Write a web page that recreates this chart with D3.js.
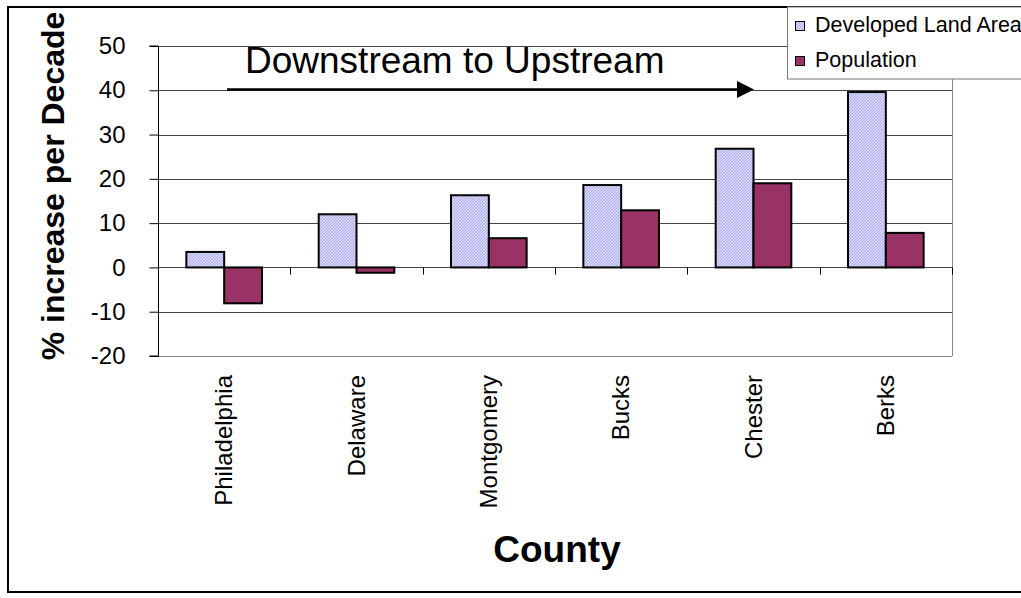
<!DOCTYPE html>
<html>
<head>
<meta charset="utf-8">
<script src="https://cdn.jsdelivr.net/npm/d3@7/dist/d3.min.js"></script>
<style>
  html, body { margin: 0; padding: 0; background: #fff; }
  svg { display: block; font-family: Arial, "Liberation Sans", sans-serif; }
</style>
</head>
<body>
<svg id="chart" width="1021" height="598"></svg>
<script>
// County growth rates, % increase per decade
const counties = ["Philadelphia", "Delaware", "Montgomery", "Bucks", "Chester", "Berks"];
const developedLand = [3.5, 12.0, 16.3, 18.6, 26.8, 39.6];
const population = [-8.1, -1.2, 6.6, 12.9, 19.0, 7.8];
const seriesNames = ["Developed Land Area", "Population"];
const yTicks = [-20, -10, 0, 10, 20, 30, 40, 50];

const svg = d3.select("#chart");
const W = 1021, H = 598;
const plot = { left: 158, right: 952, top: 46, bottom: 356 };
const FONT = "Arial, 'Liberation Sans', sans-serif";

// Hatched fill for the developed-land bars
const defs = svg.append("defs");
const pat = defs.append("pattern")
  .attr("id", "hatch").attr("patternUnits", "userSpaceOnUse")
  .attr("width", 3).attr("height", 3);
pat.append("rect").attr("width", 3).attr("height", 3).attr("fill", "#d4d4fa");
pat.append("path").attr("d", "M0,3 L3,0").attr("stroke", "#a8a8ee").attr("stroke-width", 0.9);

// Outer chart frame
svg.append("rect").attr("x", 8).attr("y", 7).attr("width", W + 10).attr("height", 585)
  .attr("fill", "#fff").attr("stroke", "#000").attr("stroke-width", 2);

const x = d3.scaleBand().domain(counties).range([plot.left, plot.right]).paddingInner(0).paddingOuter(0);
const y = d3.scaleLinear().domain([-20, 50]).range([plot.bottom, plot.top]);
const barW = x.bandwidth() / 3.5;   // 150% gap width

// Gridlines
svg.append("g").selectAll("line").data(yTicks).join("line")
  .attr("x1", plot.left).attr("x2", plot.right)
  .attr("y1", d => Math.round(y(d)) + 0.5).attr("y2", d => Math.round(y(d)) + 0.5)
  .attr("stroke", d => d === -20 ? "#888" : "#444").attr("stroke-width", 1);

// Plot area right edge
svg.append("line").attr("x1", plot.right + 0.5).attr("x2", plot.right + 0.5)
  .attr("y1", plot.top).attr("y2", plot.bottom).attr("stroke", "#888");

// Y axis
const yAxis = d3.axisLeft(y).tickValues(yTicks).tickSize(9).tickPadding(24).tickFormat(d => String(d));
const gy = svg.append("g").attr("transform", `translate(${plot.left + 0.5},0)`).call(yAxis);
gy.select(".domain").attr("stroke", "#000").attr("d", `M-9,${y(50)}H0V${y(-20)}H-9`);
gy.selectAll(".tick line").attr("stroke", "#000");
gy.selectAll(".tick text").attr("font-size", 24).attr("fill", "#000").attr("font-family", FONT);

// Category tick marks on the zero line
const zeroY = Math.round(y(0)) + 0.5;
svg.append("g").selectAll("line").data(d3.range(1, counties.length + 1)).join("line")
  .attr("x1", i => Math.round(plot.left + i * x.step()) + 0.5)
  .attr("x2", i => Math.round(plot.left + i * x.step()) + 0.5)
  .attr("y1", zeroY).attr("y2", zeroY + 7)
  .attr("stroke", "#000");

// Bars
const groups = svg.append("g").selectAll("g").data(counties).join("g");
groups.append("rect")
  .attr("x", d => x(d) + x.bandwidth() / 2 - barW)
  .attr("width", barW)
  .attr("y", (d, i) => y(Math.max(0, developedLand[i])))
  .attr("height", (d, i) => Math.abs(y(developedLand[i]) - y(0)))
  .attr("fill", "url(#hatch)").attr("stroke", "#000").attr("stroke-width", 2);
groups.append("rect")
  .attr("x", d => x(d) + x.bandwidth() / 2)
  .attr("width", barW)
  .attr("y", (d, i) => y(Math.max(0, population[i])))
  .attr("height", (d, i) => Math.abs(y(population[i]) - y(0)))
  .attr("fill", "#993366").attr("stroke", "#000").attr("stroke-width", 2);

// Category labels, rotated
svg.append("g").selectAll("text").data(counties).join("text")
  .attr("transform", d => `translate(${x(d) + x.bandwidth() / 2 + 8},375) rotate(-90)`)
  .attr("text-anchor", "end").attr("font-size", 24).attr("fill", "#000")
  .text(d => d);

// Axis titles
svg.append("text")
  .attr("transform", "translate(64,186) rotate(-90)")
  .attr("text-anchor", "middle").attr("font-size", 32).attr("font-weight", "bold")
  .text("% increase per Decade");
svg.append("text")
  .attr("x", 557).attr("y", 562).attr("text-anchor", "middle")
  .attr("font-size", 37).attr("font-weight", "bold").text("County");

// Direction annotation
svg.append("text").attr("x", 245).attr("y", 73).attr("font-size", 37).text("Downstream to Upstream");
svg.append("line").attr("x1", 227).attr("x2", 740).attr("y1", 89.5).attr("y2", 89.5)
  .attr("stroke", "#000").attr("stroke-width", 2.5);
svg.append("path").attr("d", "M737,81 L754,89.5 L737,98 Z").attr("fill", "#000");

// Legend
const lg = svg.append("g");
lg.append("rect").attr("x", 787.5).attr("y", 7).attr("width", 260).attr("height", 72)
  .attr("fill", "#fff").attr("stroke", "#777").attr("stroke-width", 1);
const fills = ["url(#hatch)", "#993366"];
seriesNames.forEach((name, i) => {
  const base = 32 + i * 35;
  lg.append("rect").attr("x", 795.5).attr("y", base - 10.5).attr("width", 9).attr("height", 9)
    .attr("fill", fills[i]).attr("stroke", "#000").attr("stroke-width", 1);
  lg.append("text").attr("x", 815).attr("y", base).attr("font-size", 21.5).text(name);
});
</script>
</body>
</html>
